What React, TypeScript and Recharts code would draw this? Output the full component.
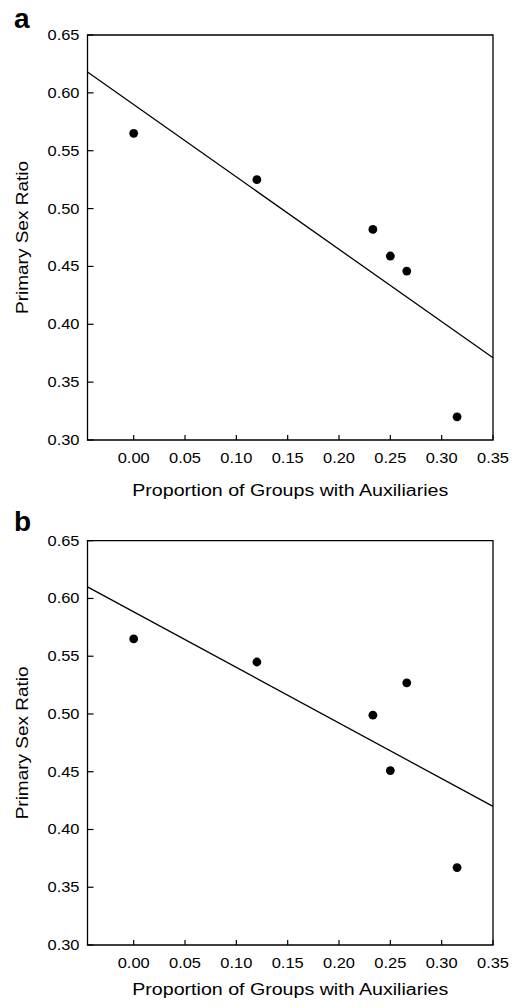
import React from "react";
import {
  ScatterChart,
  Scatter,
  XAxis,
  YAxis,
  ReferenceLine,
  ReferenceArea,
} from "recharts";

// proportion of groups with auxiliaries (same for both panels)
const proportion = [0.0, 0.12, 0.233, 0.25, 0.266, 0.315];
// primary sex ratio, panel a and panel b
const sexRatioA = [0.565, 0.525, 0.482, 0.459, 0.446, 0.32];
const sexRatioB = [0.565, 0.545, 0.499, 0.451, 0.527, 0.367];
// fitted line ends
const fitX = [-0.045, 0.35];
const fitA = [0.618, 0.371];
const fitB = [0.61, 0.42];

const xTicks = [0, 0.05, 0.1, 0.15, 0.2, 0.25, 0.3, 0.35];
const yTicks = [0.3, 0.35, 0.4, 0.45, 0.5, 0.55, 0.6, 0.65];
const xDomain = [-0.045, 0.35];
const yDomain = [0.3, 0.65];

const FONT = "'Liberation Sans', Arial, Helvetica, sans-serif";

// the source image is a bit stretched sideways, so text gets a fixed length
const XTick = (props: any) => {
  const { x, y, payload } = props;
  return (
    <g>
      <line x1={x} x2={x} y1={y} y2={y - 5} stroke="#000" strokeWidth={1.2} />
      <text
        x={x}
        y={y + 23}
        textAnchor="middle"
        fontSize={14.5}
        fontFamily={FONT}
        fill="#000"
        textLength={32}
        lengthAdjust="spacingAndGlyphs"
      >
        {payload.value.toFixed(2)}
      </text>
    </g>
  );
};

const YTick = (props: any) => {
  const { x, y, payload } = props;
  return (
    <g>
      <line x1={x} x2={x + 6} y1={y} y2={y} stroke="#000" strokeWidth={1.2} />
      <text
        x={x - 8}
        y={y + 5}
        textAnchor="end"
        fontSize={14.5}
        fontFamily={FONT}
        fill="#000"
        textLength={32}
        lengthAdjust="spacingAndGlyphs"
      >
        {payload.value.toFixed(2)}
      </text>
    </g>
  );
};

const Dot = (p: any) => <circle cx={p.cx} cy={p.cy} r={4.4} fill="#000" />;

interface PanelProps {
  ratios: number[];
  fit: number[];
  height: number;
  top: number;
  bottom: number;
  titleGap: number;
}

const Panel: React.FC<PanelProps> = ({
  ratios,
  fit,
  height,
  top,
  bottom,
  titleGap,
}) => {
  const points = proportion.map((p, i) => ({ x: p, y: ratios[i] }));
  return (
    <ScatterChart
      width={515}
      height={height}
      margin={{ top, right: 22, bottom, left: 0 }}
    >
      <XAxis
        type="number"
        dataKey="x"
        domain={xDomain}
        ticks={xTicks}
        allowDataOverflow
        axisLine={false}
        tickLine={false}
        tickSize={0}
        tickMargin={0}
        height={60}
        tick={<XTick />}
        label={{
          content: (lp: any) => {
            const vb = lp.viewBox;
            return (
              <text
                x={vb.x + vb.width / 2}
                y={vb.y + titleGap}
                textAnchor="middle"
                fontSize={16}
                fontFamily={FONT}
                fill="#000"
                textLength={316}
                lengthAdjust="spacingAndGlyphs"
              >
                Proportion of Groups with Auxiliaries
              </text>
            );
          },
        }}
      />
      <YAxis
        type="number"
        dataKey="y"
        domain={yDomain}
        ticks={yTicks}
        allowDataOverflow
        axisLine={false}
        tickLine={false}
        tickSize={0}
        tickMargin={0}
        width={87.5}
        tick={<YTick />}
        label={{
          content: (lp: any) => {
            const vb = lp.viewBox;
            const cy = vb.y + vb.height / 2;
            return (
              <text
                x={28}
                y={cy}
                transform={`rotate(-90, 28, ${cy})`}
                textAnchor="middle"
                fontSize={16}
                fontFamily={FONT}
                fill="#000"
                textLength={153}
                lengthAdjust="spacingAndGlyphs"
              >
                Primary Sex Ratio
              </text>
            );
          },
        }}
      />
      <ReferenceArea
        x1={xDomain[0]}
        x2={xDomain[1]}
        y1={yDomain[0]}
        y2={yDomain[1]}
        fill="none"
        stroke="#000"
        strokeWidth={1.3}
        fillOpacity={0}
        ifOverflow="visible"
      />
      <ReferenceLine
        segment={[
          { x: fitX[0], y: fit[0] },
          { x: fitX[1], y: fit[1] },
        ]}
        stroke="#000"
        strokeWidth={1.3}
        ifOverflow="visible"
      />
      <Scatter data={points} fill="#000" shape={Dot} isAnimationActive={false} />
    </ScatterChart>
  );
};

export default function App() {
  return (
    <div
      style={{
        position: "absolute",
        left: 0,
        top: 0,
        width: 515,
        height: 1007,
        background: "#fff",
      }}
    >
      <Panel
        ratios={sexRatioA}
        fit={fitA}
        height={500}
        top={35}
        bottom={0}
        titleGap={55.5}
      />
      <Panel
        ratios={sexRatioB}
        fit={fitB}
        height={507}
        top={40.7}
        bottom={2}
        titleGap={50}
      />
      <svg
        width={515}
        height={1007}
        style={{ position: "absolute", left: 0, top: 0, pointerEvents: "none" }}
      >
        <text x={14} y={28} fontSize={28} fontWeight="bold" fontFamily={FONT}>
          a
        </text>
        <text x={14} y={531} fontSize={28} fontWeight="bold" fontFamily={FONT}>
          b
        </text>
      </svg>
    </div>
  );
}
